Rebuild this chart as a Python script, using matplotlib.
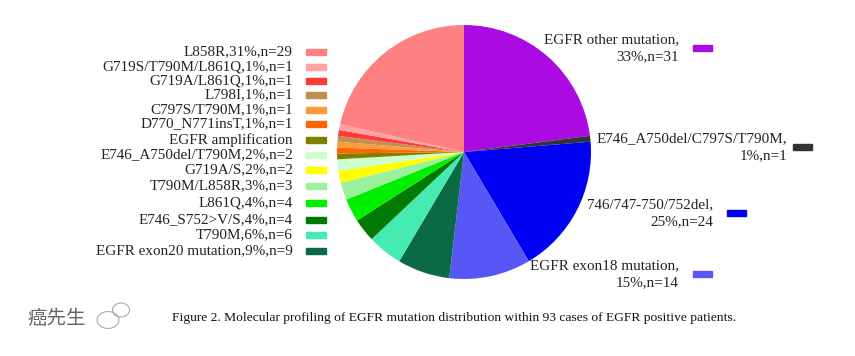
import matplotlib.pyplot as plt
from matplotlib.patches import Rectangle, Ellipse

plt.rcParams['font.family'] = ['Liberation Serif', 'DejaVu Serif']

W, H = 855, 356

# pie order, clockwise from 12 o'clock
names = ["EGFR other mutation", "E746_A750del/C797S/T790M", "746/747-750/752del",
         "EGFR exon18 mutation", "EGFR exon20 mutation", "T790M", "E746_S752>V/S",
         "L861Q", "T790M/L858R", "G719A/S", "E746_A750del/T790M", "EGFR amplification",
         "D770_N771insT", "C797S/T790M", "L798I", "G719A/L861Q", "G719S/T790M/L861Q",
         "L858R"]
pcts = [33, 1, 25, 15, 9, 6, 4, 4, 3, 2, 2, None, 1, 1, 1, 1, 1, 31]
counts = [31, 1, 24, 14, 9, 6, 4, 4, 3, 2, 2, 1, 1, 1, 1, 1, 1, 29]
colors = ["#AA0BE0", "#333333", "#0000F2", "#5757F5", "#0A6A46", "#45EBB0", "#037A03",
          "#00F000", "#9CF29C", "#FFFF00", "#CCFFCC", "#808000", "#FF6600", "#FF9A3C",
          "#C09050", "#FF3838", "#FFA3A3", "#FF8080"]

caption = ("Figure 2. Molecular profiling of EGFR mutation distribution within "
           "93 cases of EGFR positive patients.")

def label(i):
    if pcts[i] is None:
        return names[i]
    return f"{names[i]},{pcts[i]}%,n={counts[i]}"

fig = plt.figure(figsize=(W / 100, H / 100), dpi=100)

# pie
cx, cy, r = 464, 152, 127
ax = fig.add_axes([(cx - r) / W, (H - cy - r) / H, 2 * r / W, 2 * r / H])
ax.pie(counts, colors=colors, startangle=90, counterclock=False,
       wedgeprops=dict(linewidth=0))
ax.set_xlim(-1, 1)
ax.set_ylim(-1, 1)
ax.set_aspect('equal')
ax.axis('off')

def fx(x):
    return x / W

def fy(y):
    return 1 - y / H

# left legend (L858R at top)
left_idx = [17, 16, 15, 14, 13, 12, 11, 10, 9, 8, 7, 6, 5, 4]
left_y = [52, 67, 81, 95, 110, 124, 140, 155, 170, 186, 203, 220, 235, 251]
for i, y in zip(left_idx, left_y):
    fig.patches.append(Rectangle((fx(306), fy(y + 3)), 20 / W, 6 / H,
                                 transform=fig.transFigure, color=colors[i]))
    fig.text(fx(293), fy(y), label(i), ha='right', va='center',
             fontsize=10.9, color='#222222')

# right labels
right = [(0, 48, 693, 679), (1, 147, 793, 787), (2, 213, 727, 713), (3, 274, 693, 679)]
for i, y, bx, tx in right:
    fig.patches.append(Rectangle((fx(bx), fy(y + 3)), 19 / W, 6 / H,
                                 transform=fig.transFigure, color=colors[i]))
    fig.text(fx(tx), fy(y), f"{names[i]},\n{pcts[i]}%,n={counts[i]}",
             ha='right', va='center', fontsize=10.9, color='#222222',
             linespacing=1.35)

fig.text(fx(454), fy(318), caption, ha='center', va='center', fontsize=9.7,
         color='#111111')

# watermark
fig.text(fx(57), fy(318), "癌先生", ha='center', va='center', fontsize=14,
         color='#666666', family=['Noto Sans CJK SC', 'DejaVu Sans'])
for ex, ey, ew, eh in [(108, 320, 22, 17), (121, 310, 17, 14)]:
    fig.patches.append(Ellipse((fx(ex), fy(ey)), ew / W, eh / H, fill=False,
                               edgecolor='#aaaaaa', linewidth=0.8,
                               transform=fig.transFigure))

fig.savefig("out.png", dpi=100)
